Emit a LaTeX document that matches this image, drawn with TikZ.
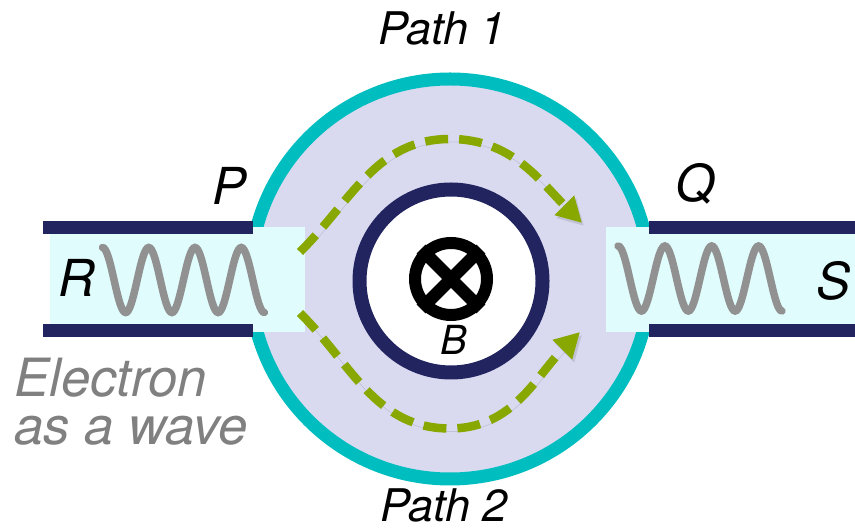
\documentclass[tikz,border=0pt]{standalone}
\usepackage{fontspec}
\setmainfont{TeX Gyre Heros}
\usepackage{xcolor}
\usetikzlibrary{arrows.meta}

\definecolor{ringcyan}{RGB}{0,190,192}
\definecolor{ringfill}{RGB}{217,217,240}
\definecolor{leadblue}{RGB}{34,36,96}
\definecolor{leadfill}{RGB}{224,252,252}
\definecolor{pathgreen}{RGB}{136,168,0}
\definecolor{wavegray}{RGB}{145,145,145}
\definecolor{textgray}{RGB}{128,128,128}

\tikzset{
  lbl/.style={font=\fontsize{29}{30}\selectfont\itshape, inner sep=0pt, anchor=base},
  pathlbl/.style={font=\fontsize{25.6}{27}\selectfont\itshape, inner sep=0pt, anchor=base},
  softshadow/.style={preaction={draw=black, opacity=0.1, transform canvas={shift={(0.04,-0.06)}}}},
  wave/.style={wavegray, line width=0.15cm, line cap=round, softshadow},
  electronpath/.style={pathgreen, line width=0.17cm, dash pattern=on 0.46cm off 0.22cm,
    >={Triangle[length=0.5cm,width=0.52cm]}, ->, softshadow},
  lead/.style={leadblue, line width=0.26cm}
}

\begin{document}
\begin{tikzpicture}
\useasboundingbox (0,0) rectangle (17.1,10.6);

% ring with the two arms
\draw[ringcyan, fill=ringfill, line width=0.26cm] (9,5.02) circle (4.0);
\draw[leadblue, fill=white, line width=0.28cm] (9.02,4.98) circle (1.83);

% leads on both sides
\fill[leadfill] (1.0,3.96) rectangle (6.1,6.06);
\fill[leadfill] (12.12,3.96) rectangle (17.1,6.06);
\draw[lead] (0.86,6.05) -- (5.06,6.05);
\draw[lead] (0.86,3.99) -- (5.06,3.99);
\draw[lead] (12.98,6.05) -- (17.1,6.05);
\draw[lead] (12.98,3.99) -- (17.1,3.99);

% field into the page
\node[circle, minimum size=1.68cm, inner sep=0pt] (field) at (9.02,5.02) {};
\draw[black, line width=0.24cm] (field.center) circle (0.72);
\draw[black, line width=0.25cm] (field.45) -- (field.225);
\draw[black, line width=0.25cm] (field.135) -- (field.315);

% incoming and outgoing waves
\draw[wave] plot[domain=0:3.5, samples=120, smooth] ({2.05+0.925*\x}, {5.0+0.65*cos(360*\x)});
\draw[wave] plot[domain=0:3.5, samples=120, smooth] ({12.36+0.937*\x}, {5.03+0.65*cos(360*\x)});

% the two paths
\coordinate (up1) at (6.0,5.56);
\coordinate (top1) at (9.0,7.82);
\coordinate (up2) at (11.64,6.14);
\coordinate (lo1) at (6.0,4.34);
\coordinate (bot2) at (9.0,2.03);
\coordinate (lo2) at (11.6,3.96);
\draw[electronpath] (up1) to[out=45,in=180] (top1) to[out=0,in=135] (up2);
\draw[electronpath] (lo1) to[out=-45,in=180] (bot2) to[out=0,in=-135] (lo2);

% labels
\node[lbl] (R) at (1.54,4.66) {R};
\node[lbl] (S) at (16.66,4.6) {S};
\node[lbl] (P) at (4.58,6.5) {P};
\node[lbl] (Q) at (13.9,6.56) {Q};
\node[lbl, font=\fontsize{22.8}{24}\selectfont\itshape] (B) at (9.08,3.5) {B};
\node[pathlbl] (path1) at (8.84,9.7) {Path 1};
\node[pathlbl] (path2) at (8.88,0.17) {Path 2};
\node[anchor=base west, inner sep=0pt, align=left, textgray,
  font=\fontsize{30}{27.4}\selectfont\itshape] (electron) at (0.28,1.7) {Electron\\as a wave};

\end{tikzpicture}
\end{document}
